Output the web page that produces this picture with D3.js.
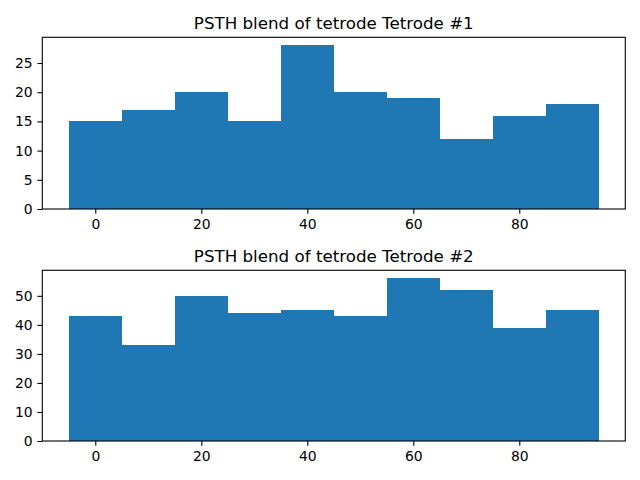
<!DOCTYPE html>
<html><head><meta charset="utf-8">
<script src="https://cdn.jsdelivr.net/npm/d3@7"></script>
<style>body{margin:0;background:#fff}svg{display:block}text{font-family:"DejaVu Sans",sans-serif}</style>
</head><body>
<script>
const binEdges = [-5,5,15,25,35,45,55,65,75,85,95];
const titles = ["PSTH blend of tetrode Tetrode #1","PSTH blend of tetrode Tetrode #2"];
const counts1 = [15,17,20,15,28,20,19,12,16,18];
const counts2 = [43,33,50,44,45,43,56,52,39,45];
const xTicks = [0,20,40,60,80];
const yTicks1 = [0,5,10,15,20,25];
const yTicks2 = [0,10,20,30,40,50];

const W=640,H=480;
const svg=d3.select("body").append("svg").attr("width",W).attr("height",H);
const panels=[
  {title:titles[0],counts:counts1,yt:yTicks1,top:37.3,bottom:209},
  {title:titles[1],counts:counts2,yt:yTicks2,top:270.3,bottom:441}
];
const left=42.3,right=625.3;
panels.forEach(p=>{
  const x=d3.scaleLinear().domain([-10,100]).range([left,right]);
  const ymax=d3.max(p.counts)*1.05;
  const y=d3.scaleLinear().domain([0,ymax]).range([p.bottom,p.top]);
  const g=svg.append("g");
  const bins=p.counts.map((c,i)=>({x0:binEdges[i],x1:binEdges[i+1],c}));
  g.selectAll("rect").data(bins).join("rect")
    .attr("x",d=>x(d.x0)).attr("width",d=>x(d.x1)-x(d.x0))
    .attr("y",d=>y(d.c)).attr("height",d=>y(0)-y(d.c))
    .attr("fill","#1f77b4").attr("shape-rendering","crispEdges");
  const xa=g.append("g").attr("transform",`translate(0,${p.bottom})`)
    .call(d3.axisBottom(x).tickValues(xTicks).tickSize(4.86).tickPadding(4.86).tickFormat(d3.format("d")));
  const ya=g.append("g").attr("transform",`translate(${left},0)`)
    .call(d3.axisLeft(y).tickValues(p.yt).tickSize(4.86).tickPadding(4.86).tickFormat(d3.format("d")));
  [xa,ya].forEach(a=>{
    a.select(".domain").remove();
    a.selectAll("line").attr("stroke","#000").attr("stroke-width",1.1);
    a.selectAll("text").attr("font-size",13.9).attr("fill","#000").attr("font-family","DejaVu Sans, sans-serif");
  });
  g.append("rect").attr("x",left).attr("y",p.top).attr("width",right-left).attr("height",p.bottom-p.top)
    .attr("fill","none").attr("stroke","#000").attr("stroke-width",1.1);
  g.append("text").attr("x",(left+right)/2).attr("y",p.top-8.3).attr("text-anchor","middle")
    .attr("font-size",16.7).attr("fill","#000").text(p.title);
});
</script>
</body></html>
